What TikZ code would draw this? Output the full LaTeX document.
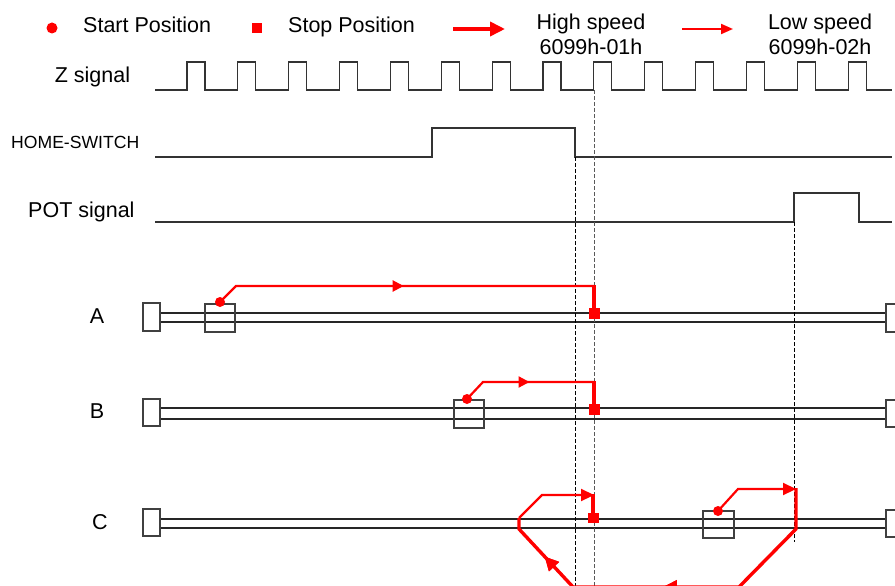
\documentclass[tikz,border=0pt]{standalone}
\usepackage{fontspec}
\setmainfont{Liberation Sans}
\usetikzlibrary{arrows.meta,decorations.markings}
\begin{document}
\begin{tikzpicture}[x=1pt,y=-1pt,
  lbl/.style={font=\fontsize{21.5}{24}\selectfont, inner sep=0pt},
  smalllbl/.style={font=\fontsize{17.6}{20}\selectfont, inner sep=0pt},
  sig/.style={line width=1.1pt, draw=black!80},
  guide/.style={dash pattern=on 4pt off 2pt, line width=0.7pt, draw=black},
  guidegray/.style={dash pattern=on 4pt off 2pt, line width=0.7pt, draw=black!65},
  track/.style={line width=1.1pt, draw=black!85},
  blk/.style={draw=black!75, line width=1.1pt, fill=white},
  sensor/.style={draw=black!75, line width=1.1pt},
  redthin/.style={draw=red, line width=2.2pt},
  redthick/.style={draw=red, line width=3.4pt},
  thinmid/.style={postaction={decorate}, decoration={markings,
      mark=at position #1 with {\arrow{Triangle[length=11pt,width=11pt]}}}},
  thickmid/.style={postaction={decorate}, decoration={markings,
      mark=at position #1 with {\arrow{Triangle[length=14pt,width=13pt]}}}},
]
\useasboundingbox (0,0) rectangle (895,586);

% ---------- legend ----------
\fill[red] (52,28) circle (5.5);
\node[lbl, anchor=base west] (startlbl) at (83,33) {Start Position};
\fill[red] (252,23) rectangle (262,33);
\node[lbl, anchor=base west] (stoplbl) at (288,33) {Stop Position};
\coordinate (ha) at (453,29); \coordinate (hb) at (505,29);
\draw[red, line width=3.6pt, -{Triangle[length=15pt,width=14pt]}] (ha) -- (hb);
\node[lbl, anchor=base] (hs1) at (591,30) {High speed};
\node[lbl, anchor=base] (hs2) at (591,55) {6099h-01h};
\coordinate (la) at (682,29); \coordinate (lb) at (733,29);
\draw[red, line width=2pt, -{Triangle[length=12pt,width=10pt]}] (la) -- (lb);
\node[lbl, anchor=base] (ls1) at (820,30) {Low speed};
\node[lbl, anchor=base] (ls2) at (820,55) {6099h-02h};

% ---------- signals ----------
\node[lbl, anchor=base] (zlbl) at (92.5,83) {Z signal};
\draw[sig] (155,90) foreach \k in {0,...,13} { -- ({187+50.85*\k},90) -- ++(0,-28) -- ++(18,0) -- ++(0,28) } -- (892,90);

\node[smalllbl, anchor=base west] (hlbl) at (11,148) {HOME-SWITCH};
\draw[sig] (155,157) -- (432,157) -- (432,128) -- (575,128) -- (575,157) -- (892,157);

\node[lbl, anchor=base west] (plbl) at (28,217) {POT signal};
\draw[sig] (155,222) -- (794,222) -- (794,193) -- (859,193) -- (859,222) -- (892,222);
\draw[line width=1.6pt, black!80] (768,222) -- (794,222);

% ---------- tracks ----------
\foreach \ya/\yb/\bt/\bb in {313/322/303/331, 408/419/399/426, 519/528/509/536}{
  \draw[track] (160,\ya) -- (886,\ya);
  \draw[track] (160,\yb) -- (886,\yb);
  \draw[blk] (143,\bt) rectangle (160,\bb);
  \draw[blk] (886,{\bt+1}) rectangle (902,{\bb+1});
}

% ---------- guides ----------
\draw[guide] (575,157) -- (575,586);
\draw[guidegray] (594,90) -- (594,586);
\draw[guide] (794,222) -- (794,542);

% ---------- row labels ----------
\node[lbl] (alb) at (97,316) {A};
\node[lbl] (blb) at (97,411) {B};
\node[lbl] (clb) at (100,522) {C};

% ---------- A ----------
\draw[sensor] (205,304) rectangle (235,332);
\draw[redthin, thinmid=0.5] (220,302) -- (236,286) -- (594,286);
\draw[redthick] (594,285) -- (594,313);
\fill[red] (220,302) circle (5);
\fill[red] (588.5,308) rectangle (599.5,319);

% ---------- B ----------
\draw[sensor] (454,400) rectangle (484,428);
\draw[redthin, thinmid=0.52] (467,399) -- (483,382) -- (594,382);
\draw[redthick] (594,381) -- (594,409);
\fill[red] (467,399) circle (5);
\fill[red] (588.5,404) rectangle (599.5,415);

% ---------- C ----------
\draw[sensor] (703,511) rectangle (734,538);
\draw[redthin, -{Triangle[length=13pt,width=12pt]}] (718,511) -- (738,489) -- (796,489);
\draw[redthick, thickmid=0.524, thickmid=0.872, line join=round]
  (796,488) -- (796,529) -- (739,587) -- (573,587) -- (519,529) -- (519,518);
\draw[redthin, -{Triangle[length=13pt,width=12pt]}] (519,518) -- (542,495) -- (594,495);
\draw[redthick] (593,494) -- (593,518);
\fill[red] (718,511) circle (5);
\fill[red] (587.5,513) rectangle (598.5,523);
\end{tikzpicture}
\end{document}
